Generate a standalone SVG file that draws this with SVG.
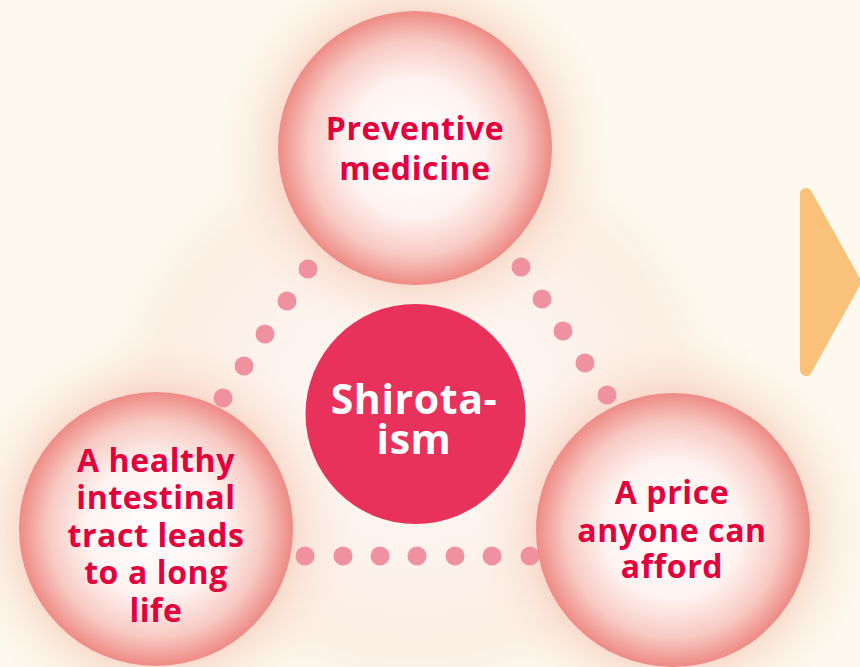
<svg xmlns="http://www.w3.org/2000/svg" width="860" height="667" viewBox="0 0 860 667">
  <defs>
    <radialGradient id="ball" cx="50%" cy="50%" r="50%">
      <stop offset="0" stop-color="#ffffff"/>
      <stop offset="0.5" stop-color="#fef3f1"/>
      <stop offset="0.78" stop-color="#f8cbc5"/>
      <stop offset="1" stop-color="#ee8a84"/>
    </radialGradient>
    <radialGradient id="halo" cx="50%" cy="50%" r="50%">
      <stop offset="0.66" stop-color="#f6cdbd" stop-opacity="0.75"/>
      <stop offset="0.8" stop-color="#f8dccd" stop-opacity="0.4"/>
      <stop offset="1" stop-color="#fbeee0" stop-opacity="0"/>
    </radialGradient>
    <radialGradient id="mid" cx="50%" cy="50%" r="50%">
      <stop offset="0" stop-color="#fffbf7"/>
      <stop offset="0.5" stop-color="#fdf2ec"/>
      <stop offset="0.8" stop-color="#fbe7dc" stop-opacity="0.5"/>
      <stop offset="1" stop-color="#fdf9ee" stop-opacity="0"/>
    </radialGradient>
    <style>
      .ball { fill: url(#ball); }
      .halo { fill: url(#halo); }
      .dot { fill: #f091a0; }
      .lbl { font-family: "Open Sans", "Noto Sans", "Liberation Sans", sans-serif; font-weight: 700; font-size: 32px; letter-spacing: 0.6px; fill: #e4003c; text-anchor: middle; }
      .core { font-family: "Open Sans", "Noto Sans", "Liberation Sans", sans-serif; font-weight: 700; font-size: 41px; letter-spacing: 0.6px; fill: #ffffff; text-anchor: middle; }
    </style>
  </defs>

  <rect width="860" height="667" fill="#fdf9ee"/>

  <g id="glow">
    <ellipse cx="415" cy="410" rx="340" ry="310" fill="url(#mid)"/>
    <circle cx="415" cy="148" r="200" class="halo"/>
    <circle cx="156" cy="529" r="200" class="halo"/>
    <circle cx="673" cy="530" r="200" class="halo"/>
  </g>

  <g id="connectors">
    <circle class="dot" cx="308" cy="269" r="9.5"/>
    <circle class="dot" cx="287" cy="301" r="9.5"/>
    <circle class="dot" cx="265" cy="334" r="9.5"/>
    <circle class="dot" cx="244" cy="366" r="9.5"/>
    <circle class="dot" cx="223" cy="398" r="9.5"/>
    <circle class="dot" cx="521" cy="267" r="9.5"/>
    <circle class="dot" cx="542" cy="299" r="9.5"/>
    <circle class="dot" cx="563" cy="331" r="9.5"/>
    <circle class="dot" cx="585" cy="363" r="9.5"/>
    <circle class="dot" cx="607" cy="395" r="9.5"/>
    <circle class="dot" cx="305" cy="556" r="9.5"/>
    <circle class="dot" cx="343" cy="556" r="9.5"/>
    <circle class="dot" cx="380" cy="556" r="9.5"/>
    <circle class="dot" cx="417" cy="556" r="9.5"/>
    <circle class="dot" cx="455" cy="556" r="9.5"/>
    <circle class="dot" cx="492" cy="556" r="9.5"/>
    <circle class="dot" cx="530" cy="556" r="9.5"/>
  </g>

  <g id="node-top">
    <circle class="ball" cx="415" cy="148" r="137"/>
    <text class="lbl" x="415" y="140">Preventive</text>
    <text class="lbl" x="415" y="180">medicine</text>
  </g>

  <g id="node-center">
    <circle cx="415.5" cy="414" r="110" fill="#e8325c"/>
    <text class="core" x="414" y="414">Shirota-</text>
    <text class="core" x="414" y="454">ism</text>
  </g>

  <g id="node-left">
    <circle class="ball" cx="156" cy="529" r="137"/>
    <text class="lbl" x="156" y="472">A healthy</text>
    <text class="lbl" x="156" y="509">intestinal</text>
    <text class="lbl" x="156" y="547">tract leads</text>
    <text class="lbl" x="156" y="584">to a long</text>
    <text class="lbl" x="156" y="622">life</text>
  </g>

  <g id="node-right">
    <circle class="ball" cx="673" cy="530" r="137"/>
    <text class="lbl" x="672" y="504">A price</text>
    <text class="lbl" x="672" y="542">anyone can</text>
    <text class="lbl" x="672" y="578">afford</text>
  </g>

  <g id="arrow">
    <path d="M806 194 L806 370 L855 282 Z" fill="#f9c17a" stroke="#f9c17a" stroke-width="12" stroke-linejoin="round"/>
  </g>
</svg>
